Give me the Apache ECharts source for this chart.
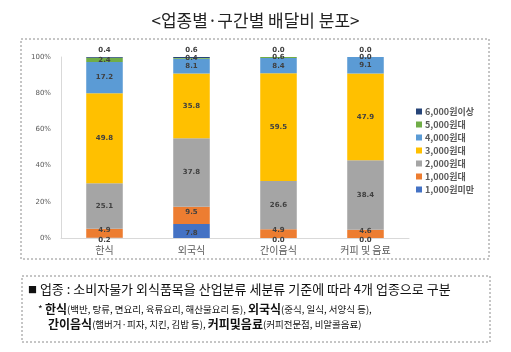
<!DOCTYPE html>
<html style="height: 100%">
<head>
    <meta charset="utf-8">
    <script src="https://cdn.jsdelivr.net/npm/echarts@6/dist/echarts.min.js"></script>
</head>
<body style="height: 100%; margin: 0; background: #fff">
    <div id="container" style="width: 511px; height: 352px"></div>
    <script type="text/javascript">

// 업종 카테고리
var categories = ['한식', '외국식', '간이음식', '커피 및 음료'];
// 구간 (아래에서 위로 쌓는 순서)
var bands = ['1,000원미만', '1,000원대', '2,000원대', '3,000원대', '4,000원대', '5,000원대', '6,000원이상'];
var bandColors = ['#4472C4', '#ED7D31', '#A5A5A5', '#FFC000', '#5B9BD5', '#70AD47', '#264478'];

// 구간별 비율(%) : 한식, 외국식, 간이음식, 커피 및 음료
var under1000 = [0.2, 7.8, 0.0, 0.0];
var won1000 = [4.9, 9.5, 4.9, 4.6];
var won2000 = [25.1, 37.8, 26.6, 38.4];
var won3000 = [49.8, 35.8, 59.5, 47.9];
var won4000 = [17.2, 8.1, 8.4, 9.1];
var won5000 = [2.4, 0.4, 0.6, 0.0];
var over6000 = [0.4, 0.6, 0.0, 0.0];
var bandValues = [under1000, won1000, won2000, won3000, won4000, won5000, over6000];

var yTicks = ['0%', '20%', '40%', '60%', '80%', '100%'];

// 작은 구간 라벨이 겹치지 않게 살짝 이동
var labelShift = [[0, 2], [0, -3], [0, 0], [0, 0], [0, 0], [0, 0], [0, 0]];

var dom = document.getElementById('container');
var myChart = echarts.init(dom);

var series = [];
for (var i = 0; i < bands.length; i++) {
    series.push({
        name: bands[i],
        type: 'bar',
        stack: 'total',
        barWidth: '42%',
        data: bandValues[i],
        itemStyle: { color: bandColors[i] },
        label: {
            show: true,
            position: i == bands.length - 1 ? 'top' : 'inside',
            distance: 3,
            offset: labelShift[i],
            formatter: function (p) { return p.value.toFixed(1); },
            color: '#404040',
            fontFamily: 'DejaVu Sans',
            fontWeight: 'bold',
            fontSize: 7
        }
    });
}

var option = {
    animation: false,
    backgroundColor: '#fff',
    title: {
        text: '<업종별·구간별 배달비 분포>',
        left: 'center',
        top: 7,
        textStyle: { fontFamily: 'Noto Sans CJK KR', fontWeight: 'normal', fontSize: 17, color: '#222' }
    },
    grid: { left: 61, right: 102, top: 57, bottom: 114 },
    legend: {
        orient: 'vertical',
        left: 411,
        top: 102,
        itemWidth: 6,
        itemHeight: 6,
        itemGap: 4,
        icon: 'rect',
        data: bands.slice().reverse(),
        textStyle: { fontFamily: 'Noto Sans CJK KR', fontSize: 9, fontWeight: 'bold', color: '#595959', padding: [0, 0, 0, -2] }
    },
    xAxis: {
        type: 'category',
        data: categories,
        axisLine: { lineStyle: { color: '#D9D9D9' } },
        axisTick: { show: false },
        axisLabel: { fontFamily: 'Noto Sans CJK KR', fontSize: 10, color: '#595959', margin: 7 }
    },
    yAxis: {
        type: 'value',
        min: 0,
        max: 100,
        interval: 20,
        axisLine: { show: true, lineStyle: { color: '#D9D9D9' } },
        splitLine: { show: false },
        axisLabel: {
            fontFamily: 'DejaVu Sans',
            fontSize: 7,
            color: '#595959',
            margin: 10,
            formatter: function (v) { return yTicks[v / 20]; }
        }
    },
    graphic: [
        {
            type: 'rect',
            shape: { x: 21, y: 39, width: 468, height: 220 },
            style: { fill: 'none', stroke: '#8c8c8c', lineWidth: 1, lineDash: [2, 2] },
            silent: true
        },
        {
            type: 'rect',
            shape: { x: 22, y: 276, width: 468, height: 66 },
            style: { fill: 'none', stroke: '#8c8c8c', lineWidth: 1, lineDash: [2, 2] },
            silent: true
        },
        {
            type: 'text',
            left: 28,
            top: 283,
            style: {
                text: '{q|■} 업종 : 소비자물가 외식품목을 산업분류 세분류 기준에 따라 4개 업종으로 구분',
                font: '13px "Noto Sans CJK KR"',
                fill: '#111',
                rich: { q: { font: '9px "Noto Sans CJK KR"', fill: '#111' } }
            }
        },
        {
            type: 'text',
            left: 38,
            top: 303,
            style: {
                text: '{s|* }{b|한식}{p|(백반, 탕류, 면요리, 육류요리, 해산물요리 등), }{b|외국식}{p|(중식, 일식, 서양식 등),}',
                rich: {
                    s: { font: '10px "Noto Sans CJK KR"', fill: '#111' },
                    b: { font: 'bold 12px "Noto Sans CJK KR"', fill: '#111' },
                    p: { font: '9.5px "Noto Sans CJK KR"', fill: '#111' }
                }
            }
        },
        {
            type: 'text',
            left: 48,
            top: 318,
            style: {
                text: '{b|간이음식}{p|(햄버거·피자, 치킨, 김밥 등), }{b|커피및음료}{p|(커피전문점, 비알콜음료)}',
                rich: {
                    b: { font: 'bold 12px "Noto Sans CJK KR"', fill: '#111' },
                    p: { font: '9.5px "Noto Sans CJK KR"', fill: '#111' }
                }
            }
        }
    ],
    series: series
};

if (option && typeof option === 'object') {
    myChart.setOption(option, true);
}
    </script>
</body>
</html>
